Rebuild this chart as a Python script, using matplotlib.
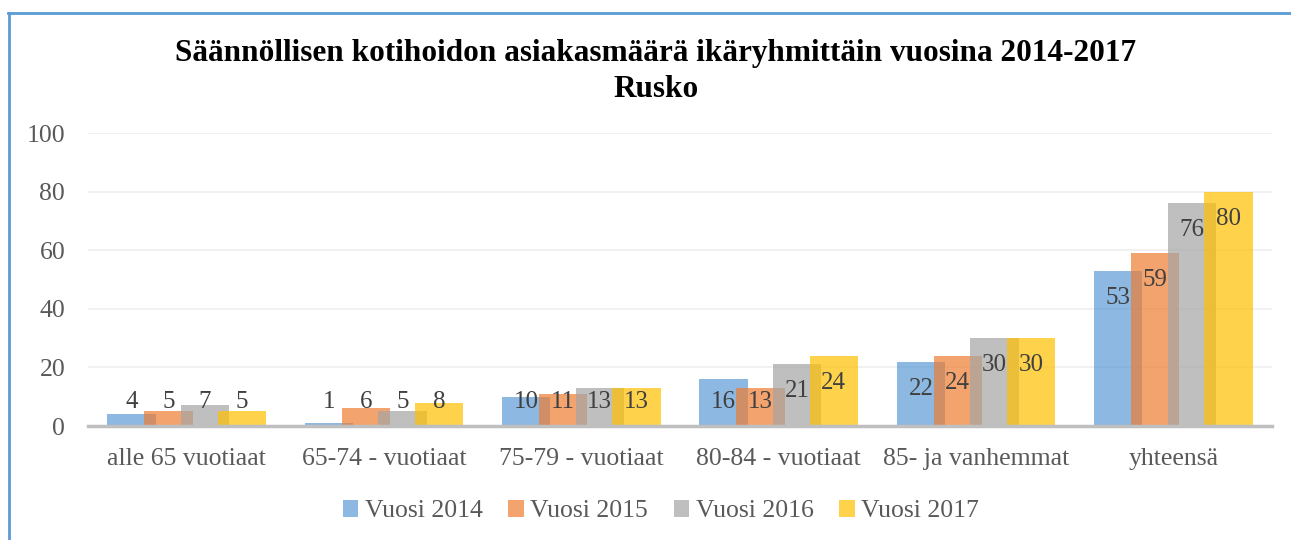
import matplotlib
matplotlib.use('Agg')
import matplotlib.pyplot as plt
from matplotlib.lines import Line2D
from matplotlib.patches import Patch
import numpy as np

categories = ['alle 65 vuotiaat', '65-74 - vuotiaat', '75-79 - vuotiaat',
              '80-84 - vuotiaat', '85- ja vanhemmat', 'yhteensä']
series_names = ['Vuosi 2014', 'Vuosi 2015', 'Vuosi 2016', 'Vuosi 2017']
v2014 = [4, 1, 10, 16, 22, 53]
v2015 = [5, 6, 11, 13, 24, 59]
v2016 = [7, 5, 13, 21, 30, 76]
v2017 = [5, 8, 13, 24, 30, 80]
yticks = [0, 20, 40, 60, 80, 100]

colors = ['#5B9BD5', '#ED7D31', '#A5A5A5', '#FFC000']
series = [v2014, v2015, v2016, v2017]

plt.rcParams['font.family'] = ['Liberation Serif', 'DejaVu Serif']

fig = plt.figure(figsize=(12.91, 5.40), dpi=100)
ax = fig.add_axes([0.0682, 0.2111, 0.9171, 0.5426])

x = np.arange(len(categories))
step = 0.186
width = 0.245
for j, (vals, col) in enumerate(zip(series, colors)):
    xs = x + (j - 1.5) * step
    ax.bar(xs, vals, width=width, color=col, alpha=0.7, zorder=2 + j, linewidth=0)
    for xi, v in zip(xs, vals):
        # labels sit just inside the bar top, but never lower than ~8
        ax.text(xi, max(v - 9.2, 8.2), str(v), ha='center', va='center',
                fontsize=18, color='#404040', zorder=10)

ax.set_xlim(-0.5, len(categories) - 0.5)
ax.set_ylim(0, 100)
ax.set_yticks(yticks)
ax.set_xticks(x)
ax.set_xticklabels(categories)
ax.tick_params(axis='both', length=0, labelsize=18.5, labelcolor='#595959')
ax.tick_params(axis='y', pad=16.5)
ax.tick_params(axis='x', pad=16)
ax.grid(axis='y', color='#EFEFEF', linewidth=1.2, zorder=0)
ax.set_axisbelow(True)
for s in ['top', 'right', 'left']:
    ax.spines[s].set_visible(False)
ax.spines['bottom'].set_color('#BFBFBF')
ax.spines['bottom'].set_linewidth(2.5)
ax.spines['bottom'].set_zorder(20)

fig.text(0.508, 0.901, 'Säännöllisen kotihoidon asiakasmäärä ikäryhmittäin vuosina 2014-2017',
         ha='center', va='center', fontsize=22.5, fontweight='bold', color='black')
fig.text(0.508, 0.835, 'Rusko', ha='center', va='center', fontsize=22.5,
         fontweight='bold', color='black')

handles = [Patch(facecolor=c, alpha=0.7, edgecolor='none') for c in colors]
fig.legend(handles, series_names, loc='center', bbox_to_anchor=(0.512, 0.053),
           ncol=4, frameon=False, fontsize=18.5, handlelength=0.6, handleheight=0.6,
           handletextpad=0.25, columnspacing=1.0, labelcolor='#595959')

# outer chart border (left and top edges visible)
fig.add_artist(Line2D([0.0072, 0.0072], [0.0, 0.976], color='#5B9BD5', linewidth=2,
                      transform=fig.transFigure))
fig.add_artist(Line2D([0.0064, 1.0], [0.976, 0.976], color='#5B9BD5', linewidth=2,
                      transform=fig.transFigure))

fig.savefig('out.png', dpi=100)
